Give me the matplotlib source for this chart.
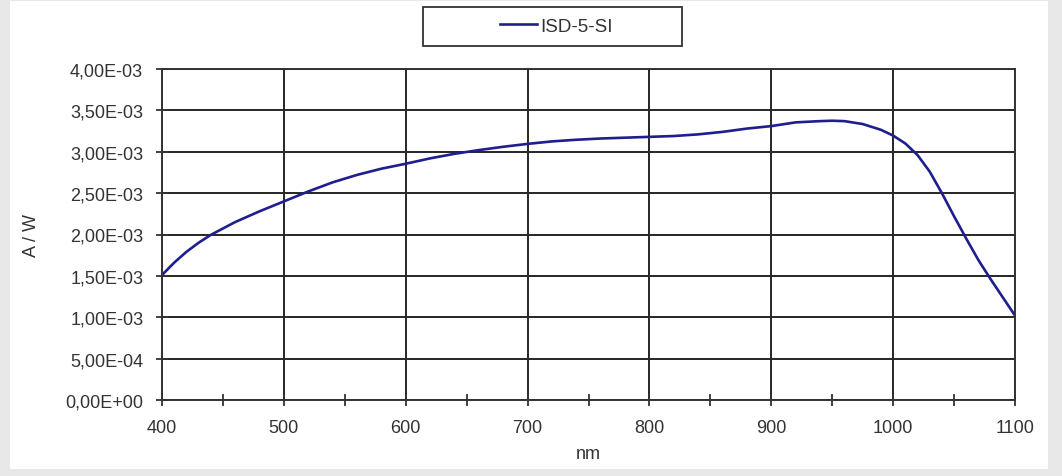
import numpy as np
import matplotlib.pyplot as plt
from matplotlib.patches import Rectangle
from matplotlib.ticker import FuncFormatter, MultipleLocator

plt.rcParams['font.family'] = ['Liberation Sans', 'DejaVu Sans']

# spectral responsivity (A/W)
wavelength = [400, 410, 420, 430, 440, 460, 480, 500, 520, 540, 560, 580, 600,
              620, 640, 660, 680, 700, 720, 740, 760, 780, 800, 820, 840, 860,
              880, 900, 920, 940, 950, 960, 975, 990, 1000, 1010, 1020, 1030,
              1040, 1050, 1060, 1070, 1080, 1090, 1100]
responsivity = [1.51, 1.66, 1.79, 1.90, 1.995, 2.15, 2.28, 2.40, 2.52, 2.63,
                2.72, 2.795, 2.855, 2.92, 2.975, 3.02, 3.06, 3.095, 3.125,
                3.145, 3.16, 3.17, 3.18, 3.19, 3.21, 3.24, 3.28, 3.31, 3.355,
                3.37, 3.375, 3.37, 3.335, 3.265, 3.195, 3.10, 2.96, 2.76, 2.50,
                2.22, 1.95, 1.69, 1.46, 1.24, 1.02]
responsivity = [v * 1e-3 for v in responsivity]
series_name = "ISD-5-SI"

W, H = 1062, 477
fig = plt.figure(figsize=(W / 100, H / 100), dpi=100, facecolor='#e8e8e8')
fig.patches.append(Rectangle((10 / W, 7 / H), 1038 / W, 468 / H,
                             transform=fig.transFigure, facecolor='white',
                             edgecolor='none', zorder=-5))
# legend frame
fig.patches.append(Rectangle((423 / W, 1 - 47 / H), 259 / W, 39 / H,
                             transform=fig.transFigure, facecolor='white',
                             edgecolor='#333333', lw=1.3, zorder=-4))

ax = fig.add_axes([162 / W, 1 - 401 / H, 853 / W, 331 / H])
ax.set_facecolor('white')
ax.plot(wavelength, responsivity, color='#1e1e8e', lw=1.9, label=series_name)

ax.set_xlim(400, 1100)
ax.set_ylim(0, 4e-3)
ax.xaxis.set_major_locator(MultipleLocator(100))
ax.xaxis.set_minor_locator(MultipleLocator(50))
ax.yaxis.set_major_locator(MultipleLocator(5e-4))

def sci_comma(v, pos):
    s = "%.2E" % v
    return s.replace('.', ',')

ax.yaxis.set_major_formatter(FuncFormatter(sci_comma))
ax.grid(True, which='major', color='#262626', lw=1.4)
for s in ax.spines.values():
    s.set_color('#333333')
    s.set_linewidth(1.4)
ax.tick_params(which='both', direction='inout', color='#333333', width=1.3,
               length=9, labelsize=13, labelcolor='#333333')
ax.tick_params(axis='x', pad=9)
ax.tick_params(axis='y', pad=9)

ax.set_xlabel('nm', fontsize=13, color='#333333', labelpad=7)
ax.set_ylabel('A / W', fontsize=13, color='#333333', labelpad=18)

leg = fig.legend(loc='center', bbox_to_anchor=(556 / W, 1 - 27 / H),
                 fontsize=13.5, frameon=False, handlelength=2.0,
                 handletextpad=0.15, borderaxespad=0)
for t in leg.get_texts():
    t.set_color('#333333')

fig.savefig('out.png', dpi=100, facecolor=fig.get_facecolor())
